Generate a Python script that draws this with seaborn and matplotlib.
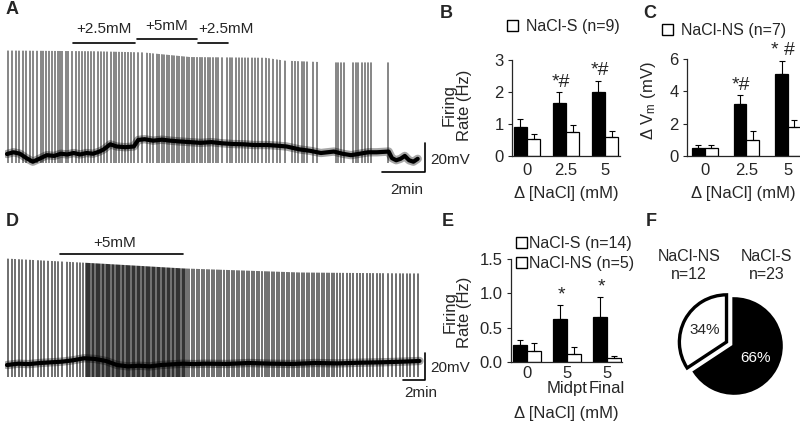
import numpy as np
import pandas as pd
import matplotlib

matplotlib.use("Agg")
import matplotlib.pyplot as plt
from matplotlib.patches import Patch
from matplotlib.ticker import FormatStrFormatter
import seaborn as sns

# ---- A: recording with 2.5 / 5 / 2.5 mM NaCl (time in min, Vm in mV) ----
spikes_a = [
    0.06, 0.22, 0.42, 0.57, 0.76, 0.87, 1.07, 1.22, 1.41, 1.58, 1.69, 1.80,
    1.97, 2.08, 2.23, 2.36, 2.47, 2.57, 2.73, 2.85, 3.01, 3.19, 3.35, 3.50,
    3.63, 3.78, 3.91, 4.06, 4.22, 4.37, 4.53, 4.64, 4.84, 4.96, 5.07, 5.21,
    5.33, 5.49, 5.61, 5.77, 5.92, 6.08, 6.26, 6.50, 6.65, 6.81, 6.96, 7.07,
    7.19, 7.32, 7.43, 7.53, 7.66, 7.78, 7.89, 8.00, 8.12, 8.25, 8.36, 8.47,
    8.59, 8.71, 8.82, 8.98, 9.09, 9.21, 9.33, 9.44, 9.60, 9.71, 9.83, 9.98,
    10.22, 10.37, 10.48, 10.64, 10.79, 10.95, 11.07, 11.22, 11.38, 11.53,
    11.69, 11.85, 12.03, 12.19, 12.39, 12.54, 12.70, 12.93, 13.27, 13.40,
    13.52, 13.74, 13.83, 13.94, 14.25, 14.40, 15.29, 15.38, 15.53, 15.69,
    16.11, 16.22, 16.34, 16.50, 16.65, 16.81, 16.93, 17.74,
]
base_a_t = [
    0.0, 0.3, 0.6, 0.9, 1.2, 1.5, 1.85, 2.2, 2.5, 2.8, 3.1, 3.4, 3.7, 4.0,
    4.3, 4.5, 4.8, 5.1, 5.5, 5.9, 6.1, 6.4, 6.8, 7.2, 7.6, 8.0, 8.5, 9.0,
    9.5, 10.0, 10.5, 11.0, 11.5, 12.1, 12.6, 13.0, 13.6, 14.1, 14.6, 15.2,
    15.6, 16.0, 16.4, 16.8, 17.2, 17.75, 17.9, 18.1, 18.3, 18.5, 18.7, 18.9,
    19.1,
]
base_a_v = [
    -50.7, -49.5, -50.5, -53.5, -56, -54, -51.5, -52, -50.5, -51, -50, -51,
    -50, -50.5, -49, -47.5, -44, -45.5, -46, -45.5, -41, -40.5, -41.5, -40.8,
    -41.5, -42, -42.5, -43, -42.5, -43.3, -43.8, -44, -44.5, -44.5, -45,
    -45.5, -47.5, -48.5, -50, -49, -50.5, -51.5, -50.5, -49.5, -49.5, -49,
    -53.5, -55, -54, -52, -55, -56, -54,
]
peak_a_t = [-0.2, 4.0, 6.3, 8.5, 12.0, 12.9, 15.0, 19.5]
peak_a_v = [21, 20.5, 19.7, 16.5, 16, 14, 12.8, 12.8]
drug_a_labels = ["+2.5mM", "+5mM", "+2.5mM"]
drug_a_start = [3.07, 6.05, 8.88]
drug_a_end = [5.95, 8.84, 10.28]

# ---- D: recording with 5 mM NaCl ----
spikes_d = [
    0.12, 0.48, 0.73, 1.09, 1.39, 1.70, 2.09, 2.39, 2.85, 3.09, 3.39, 3.70,
    4.06, 4.36, 4.67, 5.03, 5.42, 5.73, 6.03, 6.33, 6.64, 6.94, 7.16, 7.24,
    7.33, 7.45, 7.58, 7.70, 7.81, 7.94, 8.05, 8.15, 8.27, 8.36, 8.49, 8.61,
    8.72, 8.85, 8.97, 9.06, 9.16, 9.27, 9.40, 9.52, 9.63, 9.76, 9.87, 9.97,
    10.07, 10.18, 10.30, 10.42, 10.55, 10.67, 10.78, 10.88, 10.98, 11.09,
    11.21, 11.33, 11.45, 11.58, 11.68, 11.79, 11.90, 12.00, 12.12, 12.24,
    12.37, 12.48, 12.60, 12.70, 12.80, 12.91, 13.03, 13.15, 13.27, 13.39,
    13.50, 13.61, 13.71, 13.82, 13.95, 14.06, 14.18, 14.30, 14.41, 14.52,
    14.63, 14.73, 14.86, 14.97, 15.09, 15.21, 15.33, 15.42, 15.53, 15.64,
    15.76, 15.88, 16.00, 16.12, 16.22, 16.33, 16.55, 16.79, 17.03, 17.24,
    17.45, 17.70, 17.94, 18.15, 18.36, 18.61, 18.82, 19.06, 19.27, 19.49,
    19.76, 19.97, 20.18, 20.45, 20.67, 20.88, 21.09, 21.36, 21.58, 21.79,
    22.00, 22.27, 22.48, 22.70, 22.91, 23.15, 23.42, 23.61, 23.82, 24.06,
    24.30, 24.52, 24.76, 24.97, 25.21, 25.42, 25.64, 25.91, 26.12, 26.33,
    26.55, 26.79, 27.03, 27.24, 27.48, 27.70, 27.94, 28.15, 28.36, 28.64,
    28.85, 29.06, 29.27, 29.52, 29.76, 29.97, 30.27, 30.58, 30.88, 31.18,
    31.48, 31.79, 32.09, 32.39, 32.70, 33.00, 33.30, 33.61, 33.91, 34.21,
    34.61, 34.97, 35.33, 35.73, 36.03, 36.33, 36.64, 37.03, 37.39,
]
base_d_t = [0, 1, 2, 3, 4, 5, 6, 7, 8, 9, 10, 11, 12, 13, 14, 15, 16, 17,
            18, 20, 22, 24, 26, 28, 30, 32, 34, 36, 37.5]
base_d_v = [-51.5, -50.5, -50.8, -50, -49.5, -49, -48, -46.5, -47, -48.5,
            -51.5, -52.5, -52, -52.5, -51.5, -51, -50.5, -50.8, -50.5, -50.7,
            -50, -50.5, -50.7, -50, -50.3, -49.8, -49.5, -49, -48.5]
peak_d_t = [-0.3, 8.45, 16.0, 26.6, 36.6, 39.0]
peak_d_v = [27.8, 24, 20.4, 17.4, 16.7, 16.7]
drug_d_labels = ["+5mM"]
drug_d_start = [4.82]
drug_d_end = [16.0]

# ---- B / C / E: bar summaries (mean, SEM) ----
b_cats = ["0", "2.5", "5"]
b_black = [0.90, 1.67, 1.99]
b_black_err = [0.25, 0.33, 0.36]
b_white = [0.54, 0.74, 0.59]
b_white_err = [0.15, 0.24, 0.20]
b_marks = ["", "*#", "*#"]
b_legend = ["NaCl-S (n=9)"]

c_cats = ["0", "2.5", "5"]
c_black = [0.52, 3.19, 5.06]
c_black_err = [0.17, 0.56, 0.84]
c_white = [0.48, 1.00, 1.79]
c_white_err = [0.17, 0.52, 0.46]
c_marks = ["", "*#", "* #"]
c_legend = ["NaCl-NS (n=7)"]

e_cats = ["0", "5\nMidpt", "5\nFinal"]
e_black = [0.25, 0.62, 0.66]
e_black_err = [0.07, 0.21, 0.29]
e_white = [0.16, 0.12, 0.06]
e_white_err = [0.11, 0.10, 0.03]
e_marks = ["", "*", "*"]
e_legend = ["NaCl-S (n=14)", "NaCl-NS (n=5)"]

# ---- F: pie ----
pie_groups = ["NaCl-S", "NaCl-NS"]
pie_n = [23, 12]

sns.set_style("white")
plt.rcParams["font.family"] = ["Liberation Sans", "DejaVu Sans"]
plt.rcParams["mathtext.default"] = "regular"

W, H = 800, 425
fig = plt.figure(figsize=(W / 100, H / 100), dpi=100)


def px_axes(x0, y0, x1, y1):
    return fig.add_axes([x0 / W, 1 - y1 / H, (x1 - x0) / W, (y1 - y0) / H])


def trace(ax, spikes, base_t, base_v, peak_t, peak_v, lo, hi, top, alpha):
    ax.vlines(spikes, lo, hi, color="black", alpha=alpha, lw=1.1, zorder=2)
    # trim spike tops to the amplitude envelope
    ax.fill_between(peak_t, peak_v, top, color="white", lw=0, zorder=3)
    sns.lineplot(x=base_t, y=base_v, color="black", alpha=0.35, lw=6, ax=ax,
                 zorder=4)
    sns.lineplot(x=base_t, y=base_v, color="black", lw=3, ax=ax, zorder=5)
    ax.set_axis_off()


def scalebar(ax, x, y, dx, dy, tx, ty_mv, tx_min, ty_min):
    ax.plot([x - dx, x, x], [y, y, y + dy], color="black", lw=1.2, zorder=6)
    ax.text(tx, ty_mv, "20mV", ha="left", va="center", fontsize=11)
    ax.text(tx_min, ty_min, "2min", ha="center", va="center", fontsize=11)


# A
ax_a = px_axes(5, 20, 445, 200)
trace(ax_a, spikes_a, base_a_t, base_a_v, peak_a_t, peak_a_v, -57, 22, 41.7, 0.6)
ax_a.set_xlim(-0.093, 20.37)
ax_a.set_ylim(-82.4, 41.7)
levels = [26.1, 28.4, 26.1]
for lab, s, e, lv, ha in zip(drug_a_labels, drug_a_start, drug_a_end, levels,
                             ["center", "center", "left"]):
    ax_a.plot([s, e], [lv, lv], color="black", lw=1.2, zorder=6)
    tx = (s + e) / 2 if ha == "center" else s
    ax_a.text(tx, lv + 4.5, lab, ha=ha, va="bottom", fontsize=11)
scalebar(ax_a, 19.44, -63.1, 2.0, 20, 19.67, -54.8, 18.6, -75.5)

# D
ax_d = px_axes(5, 235, 445, 400)
trace(ax_d, spikes_d, base_d_t, base_d_v, peak_d_t, peak_d_v, -60, 28, 44.8, 0.72)
ax_d.set_xlim(-0.18, 39.82)
ax_d.set_ylim(-77.4, 44.8)
for lab, s, e in zip(drug_d_labels, drug_d_start, drug_d_end):
    ax_d.plot([s, e], [30.7, 30.7], color="black", lw=1.2, zorder=6)
    ax_d.text((s + e) / 2 - 0.6, 33.5, lab, ha="center", va="bottom",
              fontsize=11)
scalebar(ax_d, 38.0, -62.6, 2.0, 20, 38.45, -53.7, 37.6, -72.2)


def bar_panel(ax, cats, black, black_err, white, white_err, marks, width):
    df = pd.DataFrame({
        "nacl": cats * 2,
        "group": ["S"] * len(cats) + ["NS"] * len(cats),
        "value": black + white,
    })
    sns.barplot(data=df, x="nacl", y="value", hue="group", order=cats,
                hue_order=["S", "NS"], palette=["black", "white"],
                saturation=1, edgecolor="black", linewidth=0.9, width=width,
                errorbar=None, legend=False, ax=ax)
    for bars, err in zip(ax.containers, [black_err, white_err]):
        xs = [b.get_x() + b.get_width() / 2 for b in bars]
        hs = [b.get_height() for b in bars]
        ax.errorbar(xs, hs, yerr=[np.zeros(len(err)), err], fmt="none",
                    ecolor="black", elinewidth=0.8, capsize=2, capthick=0.8)
    for b, err, m in zip(ax.containers[0], black_err, marks):
        if m:
            ax.annotate(m, (b.get_x() + b.get_width() / 2, b.get_height() + err),
                        xytext=(1, 1), textcoords="offset points", ha="center",
                        va="bottom", fontsize=14)
    sns.despine(ax=ax)
    for sp in ax.spines.values():
        sp.set_linewidth(0.9)
    ax.tick_params(axis="x", length=0, labelsize=12, pad=5)
    ax.tick_params(axis="y", length=3, width=0.8, labelsize=12, pad=3, left=True)


def legend(ax, labels, x, y, textpad):
    handles = [Patch(facecolor="white", edgecolor="black", lw=1) for _ in labels]
    ax.legend(handles, labels, loc="upper left", bbox_to_anchor=(x / W, 1 - y / H),
              bbox_transform=fig.transFigure, frameon=False, fontsize=11.5,
              handlelength=0.7, handleheight=0.7, handletextpad=textpad,
              borderpad=0, borderaxespad=0, labelspacing=0.3)


# B
ax_b = px_axes(512, 60, 620, 156)
bar_panel(ax_b, b_cats, b_black, b_black_err, b_white, b_white_err, b_marks, 0.67)
ax_b.set_xlim(-0.385, 2.385)
ax_b.set_ylim(0, 3)
ax_b.set_yticks([0, 1, 2, 3])
ax_b.set_ylabel("Firing\nRate (Hz)", fontsize=12, linespacing=1.0)
ax_b.yaxis.set_label_coords(-0.37, 0.53)
ax_b.set_xlabel("Δ [NaCl] (mM)", fontsize=12)
ax_b.xaxis.set_label_coords(0.5, -0.31)
legend(ax_b, b_legend, 507, 19, 0.5)

# C
ax_c = px_axes(687, 59, 805, 156)
bar_panel(ax_c, c_cats, c_black, c_black_err, c_white, c_white_err, c_marks, 0.62)
ax_c.set_xlim(-0.43, 2.41)
ax_c.set_ylim(0, 6)
ax_c.set_yticks([0, 2, 4, 6])
ax_c.set_ylabel("Δ V$_{m}$ (mV)", fontsize=12)
ax_c.yaxis.set_label_coords(-0.25, 0.57)
ax_c.set_xlabel("Δ [NaCl] (mM)", fontsize=12)
ax_c.xaxis.set_label_coords(0.48, -0.31)
legend(ax_c, c_legend, 662, 23, 0.5)

# E
ax_e = px_axes(511, 259, 622, 362)
bar_panel(ax_e, e_cats, e_black, e_black_err, e_white, e_white_err, e_marks, 0.7)
ax_e.set_xlim(-0.4, 2.375)
ax_e.set_ylim(0, 1.5)
ax_e.set_yticks([0, 0.5, 1.0, 1.5])
ax_e.yaxis.set_major_formatter(FormatStrFormatter("%.1f"))
ax_e.tick_params(axis="x", pad=3)
for lbl in ax_e.get_xticklabels():
    lbl.set_linespacing(0.95)
ax_e.set_ylabel("Firing\nRate (Hz)", fontsize=12, linespacing=1.0)
ax_e.yaxis.set_label_coords(-0.35, 0.48)
ax_e.set_xlabel("Δ [NaCl] (mM)", fontsize=12)
ax_e.xaxis.set_label_coords(0.5, -0.43)
legend(ax_e, e_legend, 516, 236, 0.12)

# F
ax_f = px_axes(668, 280, 800, 412)
wedges, _, autotexts = ax_f.pie(
    pie_n, colors=["black", "white"], startangle=90, counterclock=False,
    explode=[0, 0.18], autopct="%.0f%%", pctdistance=0.52,
    wedgeprops=dict(edgecolor="black", linewidth=2.4),
    textprops=dict(fontsize=11))
autotexts[0].set_color("white")
ax_f.set_xlim(-1.4, 1.4)
ax_f.set_ylim(-1.4, 1.4)
for g, n, x in zip(pie_groups, pie_n, [0.70, -0.96]):
    ax_f.text(x, 1.70, f"{g}\nn={n}", ha="center", va="center", fontsize=11.5,
              linespacing=1.25)

for letter, x, y in [("A", 12, 10), ("B", 446, 13), ("C", 650, 13),
                     ("D", 12, 222), ("E", 448, 222), ("F", 651, 222)]:
    fig.text(x / W, 1 - y / H, letter, ha="center", va="center",
             fontsize=13, fontweight="bold")

fig.savefig("out.png", dpi=100)
